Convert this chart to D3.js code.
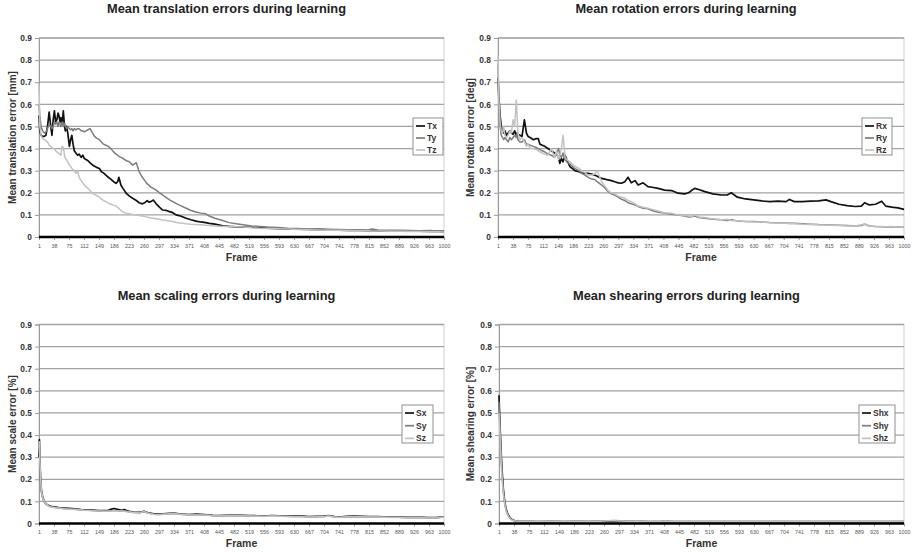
<!DOCTYPE html>
<html>
<head>
<meta charset="utf-8">
<script src="https://cdn.jsdelivr.net/npm/d3@7"></script>
<style>
  html, body { margin: 0; padding: 0; background: #fff; }
  svg { display: block; font-family: 'Liberation Sans', Arial, sans-serif; }
</style>
</head>
<body>
<svg id="chart" width="917" height="552"></svg>
<script>
const frameTicks = [1, 38, 75, 112, 149, 186, 223, 260, 297, 334, 371, 408, 445, 482, 519, 556, 593, 630, 667, 704, 741, 778, 815, 852, 889, 926, 963, 1000]
const errorTicks = [0, 0.1, 0.2, 0.3, 0.4, 0.5, 0.6, 0.7, 0.8, 0.9]

const transFrames = [1, 3, 6, 10, 14, 18, 22, 26, 30, 33, 36, 39, 42, 45, 48, 50, 53, 55, 58, 61, 64, 66, 69, 72, 76, 79, 82, 85, 88, 92, 96, 100, 105, 109, 113, 117, 122, 127, 133, 138, 143, 150, 155, 160, 166, 172, 178, 185, 191, 195, 198, 203, 208, 216, 224, 232, 241, 248, 256, 262, 268, 272, 277, 283, 290, 298, 306, 315, 323, 331, 339, 350, 364, 376, 388, 400, 412, 421, 435, 454, 470, 487, 505, 525, 545, 565, 590, 615, 640, 665, 690, 715, 740, 765, 790, 815, 822, 840, 865, 890, 915, 940, 965, 985, 1000]
const tx = [0.55, 0.48, 0.46, 0.455, 0.455, 0.46, 0.50, 0.565, 0.50, 0.46,
  0.53, 0.57, 0.52, 0.53, 0.56, 0.55, 0.52, 0.54, 0.51, 0.57,
  0.50, 0.48, 0.50, 0.47, 0.41, 0.44, 0.46, 0.42, 0.39, 0.38,
  0.37, 0.375, 0.36, 0.37, 0.355, 0.35, 0.345, 0.335, 0.326, 0.32,
  0.315, 0.31, 0.295, 0.29, 0.28, 0.27, 0.262, 0.25, 0.243, 0.25,
  0.27, 0.235, 0.22, 0.198, 0.185, 0.175, 0.165, 0.155, 0.15, 0.155,
  0.165, 0.158, 0.16, 0.167, 0.15, 0.135, 0.122, 0.12, 0.115, 0.11,
  0.10, 0.095, 0.085, 0.078, 0.072, 0.068, 0.065, 0.062, 0.058, 0.051,
  0.048, 0.046, 0.045, 0.044, 0.042, 0.04, 0.038, 0.036, 0.035, 0.034,
  0.033, 0.032, 0.031, 0.03, 0.03, 0.029, 0.029, 0.028, 0.028, 0.027,
  0.026, 0.026, 0.025, 0.025, 0.024]
const ty = [0.60, 0.55, 0.50, 0.48, 0.47, 0.475, 0.49, 0.51, 0.50, 0.49,
  0.50, 0.52, 0.51, 0.52, 0.50, 0.52, 0.51, 0.50, 0.52, 0.50,
  0.515, 0.50, 0.49, 0.50, 0.49, 0.485, 0.49, 0.48, 0.49, 0.485,
  0.49, 0.49, 0.48, 0.48, 0.475, 0.48, 0.485, 0.49, 0.47, 0.455,
  0.447, 0.44, 0.43, 0.42, 0.415, 0.41, 0.40, 0.385, 0.375, 0.37,
  0.365, 0.36, 0.356, 0.345, 0.34, 0.325, 0.336, 0.296, 0.27, 0.255,
  0.24, 0.235, 0.225, 0.22, 0.212, 0.20, 0.19, 0.178, 0.168, 0.16,
  0.152, 0.142, 0.13, 0.12, 0.113, 0.108, 0.105, 0.095, 0.085, 0.075,
  0.065, 0.06, 0.055, 0.05, 0.048, 0.045, 0.043, 0.04, 0.039, 0.036,
  0.037, 0.035, 0.034, 0.033, 0.032, 0.033, 0.036, 0.031, 0.03, 0.03,
  0.029, 0.028, 0.029, 0.027, 0.028]
const tz = [0.69, 0.50, 0.46, 0.445, 0.44, 0.435, 0.43, 0.416, 0.41, 0.405,
  0.40, 0.398, 0.39, 0.385, 0.38, 0.378, 0.372, 0.37, 0.41, 0.405,
  0.37, 0.355, 0.35, 0.34, 0.326, 0.32, 0.31, 0.305, 0.30, 0.288,
  0.30, 0.27, 0.255, 0.245, 0.235, 0.228, 0.22, 0.21, 0.198, 0.192,
  0.188, 0.18, 0.172, 0.165, 0.16, 0.153, 0.148, 0.143, 0.14, 0.133,
  0.13, 0.12, 0.113, 0.108, 0.105, 0.102, 0.10, 0.097, 0.095, 0.093,
  0.09, 0.088, 0.086, 0.085, 0.083, 0.08, 0.077, 0.075, 0.072, 0.07,
  0.066, 0.063, 0.06, 0.058, 0.057, 0.055, 0.053, 0.052, 0.05, 0.048,
  0.047, 0.046, 0.045, 0.042, 0.04, 0.039, 0.037, 0.036, 0.034, 0.033,
  0.032, 0.031, 0.03, 0.029, 0.028, 0.028, 0.027, 0.027, 0.026, 0.026,
  0.025, 0.025, 0.024, 0.024, 0.023]

// rotation
const rotFrames = [1, 3, 6, 9, 12, 15, 18, 22, 26, 30, 34, 38, 42, 46, 48, 50, 55, 60, 66, 71, 75, 80, 88, 95, 100, 104, 110, 116, 124, 132, 140, 145, 150, 153, 157, 161, 166, 170, 178, 184, 190, 200, 207, 215, 223, 231, 239, 245, 256, 264, 272, 280, 288, 297, 305, 313, 321, 329, 338, 346, 358, 370, 380, 395, 411, 428, 444, 460, 470, 477, 485, 495, 510, 530, 550, 565, 575, 590, 610, 630, 650, 670, 690, 710, 718, 730, 750, 770, 790, 808, 820, 840, 860, 880, 895, 903, 915, 930, 945, 955, 970, 985, 1000]
const rx = [0.72, 0.64, 0.55, 0.50, 0.48, 0.47, 0.48, 0.46, 0.47, 0.48,
  0.47, 0.465, 0.48, 0.46, 0.47, 0.465, 0.46, 0.455, 0.53, 0.47,
  0.455, 0.45, 0.44, 0.445, 0.445, 0.42, 0.415, 0.41, 0.40, 0.39,
  0.38, 0.375, 0.36, 0.333, 0.355, 0.34, 0.37, 0.35, 0.318, 0.31,
  0.30, 0.295, 0.29, 0.288, 0.288, 0.285, 0.28, 0.275, 0.265, 0.262,
  0.258, 0.255, 0.25, 0.245, 0.243, 0.25, 0.27, 0.245, 0.255, 0.235,
  0.245, 0.228, 0.225, 0.22, 0.212, 0.21, 0.198, 0.195, 0.2, 0.21,
  0.22, 0.215, 0.205, 0.195, 0.19, 0.19, 0.2, 0.18, 0.172, 0.168,
  0.163, 0.16, 0.162, 0.16, 0.17, 0.16, 0.16, 0.162, 0.163, 0.168,
  0.16, 0.148, 0.142, 0.138, 0.14, 0.155, 0.145, 0.148, 0.162, 0.14,
  0.135, 0.132, 0.125]
const ry = [0.78, 0.60, 0.50, 0.46, 0.45, 0.44, 0.45, 0.44, 0.43, 0.45,
  0.44, 0.45, 0.46, 0.45, 0.47, 0.44, 0.43, 0.43, 0.44, 0.42,
  0.42, 0.415, 0.41, 0.405, 0.40, 0.395, 0.39, 0.385, 0.375, 0.37,
  0.36, 0.38, 0.40, 0.37, 0.36, 0.38, 0.35, 0.34, 0.33, 0.32,
  0.31, 0.30, 0.288, 0.28, 0.27, 0.262, 0.26, 0.25, 0.235, 0.222,
  0.205, 0.195, 0.19, 0.18, 0.17, 0.165, 0.155, 0.15, 0.145, 0.138,
  0.13, 0.128, 0.12, 0.112, 0.108, 0.103, 0.10, 0.095, 0.09, 0.092,
  0.095, 0.088, 0.085, 0.08, 0.078, 0.075, 0.078, 0.072, 0.07, 0.07,
  0.068, 0.066, 0.065, 0.063, 0.062, 0.062, 0.06, 0.058, 0.056, 0.055,
  0.054, 0.053, 0.052, 0.05, 0.052, 0.058, 0.05, 0.047, 0.046, 0.045,
  0.045, 0.046, 0.044]
const rz = [0.82, 0.62, 0.52, 0.48, 0.47, 0.50, 0.46, 0.45, 0.46, 0.48,
  0.47, 0.53, 0.50, 0.62, 0.55, 0.47, 0.44, 0.45, 0.43, 0.41,
  0.42, 0.40, 0.40, 0.395, 0.39, 0.385, 0.38, 0.375, 0.37, 0.40,
  0.36, 0.39, 0.35, 0.37, 0.40, 0.46, 0.36, 0.35, 0.34, 0.33,
  0.32, 0.31, 0.30, 0.29, 0.28, 0.28, 0.285, 0.30, 0.25, 0.23,
  0.21, 0.20, 0.195, 0.185, 0.18, 0.175, 0.165, 0.16, 0.15, 0.14,
  0.135, 0.13, 0.125, 0.118, 0.11, 0.107, 0.10, 0.097, 0.095, 0.09,
  0.10, 0.09, 0.088, 0.082, 0.078, 0.08, 0.075, 0.074, 0.07, 0.068,
  0.068, 0.064, 0.063, 0.062, 0.06, 0.06, 0.058, 0.057, 0.055, 0.054,
  0.053, 0.052, 0.05, 0.05, 0.055, 0.06, 0.05, 0.048, 0.047, 0.046,
  0.047, 0.045, 0.045]

// scaling
const scaleFrames = [1, 2, 3, 5, 7, 10, 14, 18, 24, 30, 38, 50, 62, 75, 90, 105, 112, 125, 140, 149, 160, 172, 180, 186, 195, 205, 212, 218, 223, 235, 250, 260, 270, 285, 297, 315, 334, 350, 371, 390, 408, 430, 445, 465, 482, 500, 519, 540, 556, 575, 593, 612, 630, 650, 667, 685, 704, 715, 730, 741, 760, 778, 800, 815, 835, 852, 870, 889, 910, 926, 945, 963, 980, 1000]
const sx = [0.30, 0.38, 0.30, 0.2, 0.15, 0.12, 0.1, 0.09, 0.082, 0.078,
  0.075, 0.072, 0.07, 0.068, 0.066, 0.063, 0.062, 0.062, 0.06, 0.058,
  0.058, 0.06, 0.065, 0.068, 0.064, 0.06, 0.063, 0.058, 0.055, 0.052,
  0.05, 0.055, 0.048, 0.044, 0.042, 0.045, 0.047, 0.043, 0.04, 0.042,
  0.04, 0.037, 0.036, 0.037, 0.038, 0.037, 0.036, 0.035, 0.034, 0.036,
  0.035, 0.034, 0.033, 0.033, 0.031, 0.032, 0.033, 0.036, 0.031, 0.029,
  0.032, 0.033, 0.032, 0.031, 0.031, 0.03, 0.029, 0.029, 0.028, 0.028,
  0.028, 0.027, 0.027, 0.03]
const sy = [0.32, 0.36, 0.28, 0.19, 0.14, 0.115, 0.098, 0.088, 0.08, 0.076,
  0.073, 0.07, 0.068, 0.066, 0.064, 0.062, 0.06, 0.06, 0.058, 0.057,
  0.056, 0.057, 0.058, 0.06, 0.058, 0.057, 0.056, 0.055, 0.053, 0.05,
  0.049, 0.056, 0.047, 0.042, 0.041, 0.044, 0.046, 0.042, 0.04, 0.04,
  0.039, 0.036, 0.035, 0.036, 0.037, 0.036, 0.035, 0.034, 0.033, 0.035,
  0.034, 0.033, 0.032, 0.032, 0.03, 0.031, 0.032, 0.035, 0.03, 0.028,
  0.031, 0.032, 0.031, 0.03, 0.03, 0.029, 0.028, 0.028, 0.027, 0.027,
  0.027, 0.026, 0.026, 0.029]
const sz = [0.34, 0.37, 0.29, 0.2, 0.145, 0.118, 0.1, 0.09, 0.08, 0.075,
  0.072, 0.07, 0.067, 0.065, 0.063, 0.061, 0.06, 0.059, 0.057, 0.056,
  0.055, 0.056, 0.057, 0.058, 0.057, 0.056, 0.055, 0.053, 0.052, 0.05,
  0.048, 0.054, 0.046, 0.041, 0.04, 0.043, 0.045, 0.041, 0.039, 0.039,
  0.038, 0.035, 0.034, 0.035, 0.036, 0.035, 0.034, 0.033, 0.032, 0.034,
  0.033, 0.032, 0.031, 0.031, 0.029, 0.03, 0.031, 0.034, 0.029, 0.027,
  0.03, 0.031, 0.03, 0.029, 0.029, 0.028, 0.027, 0.027, 0.026, 0.026,
  0.026, 0.025, 0.025, 0.028]

// shearing
const shearFrames = [1, 2, 4, 6, 8, 10, 12, 15, 18, 21, 25, 30, 35, 40, 50, 65, 80, 100, 130, 160, 190, 220, 250, 270, 285, 300, 320, 340, 370, 400, 408, 430, 460, 500, 550, 600, 650, 700, 750, 800, 850, 900, 950, 1000]
const shx = [0.58, 0.52, 0.42, 0.33, 0.26, 0.2, 0.15, 0.1, 0.07, 0.05,
  0.035, 0.022, 0.016, 0.012, 0.01, 0.009, 0.009, 0.008, 0.009, 0.008,
  0.009, 0.009, 0.009, 0.01, 0.011, 0.01, 0.009, 0.01, 0.008, 0.008,
  0.01, 0.008, 0.008, 0.008, 0.008, 0.008, 0.008, 0.008, 0.008, 0.008,
  0.008, 0.008, 0.008, 0.007]
const shy = [0.55, 0.5, 0.4, 0.31, 0.24, 0.185, 0.14, 0.095, 0.065, 0.046,
  0.032, 0.02, 0.015, 0.012, 0.011, 0.01, 0.01, 0.01, 0.011, 0.01,
  0.011, 0.012, 0.011, 0.013, 0.014, 0.012, 0.011, 0.012, 0.01, 0.01,
  0.013, 0.01, 0.01, 0.01, 0.01, 0.01, 0.01, 0.01, 0.01, 0.01,
  0.01, 0.01, 0.01, 0.01]
const shz = [0.5, 0.46, 0.37, 0.29, 0.22, 0.17, 0.13, 0.09, 0.06, 0.043,
  0.03, 0.019, 0.014, 0.011, 0.01, 0.009, 0.009, 0.009, 0.01, 0.009,
  0.01, 0.011, 0.01, 0.012, 0.012, 0.011, 0.01, 0.011, 0.009, 0.009,
  0.011, 0.009, 0.009, 0.009, 0.009, 0.009, 0.009, 0.009, 0.009, 0.009,
  0.009, 0.009, 0.009, 0.009]

const seriesColors = ['#111111', '#7d7d7d', '#c2c2c2']

const panels = [
  { title: 'Mean translation errors during learning', yTitle: 'Mean translation error [mm]',
    frames: transFrames, series: [['Tx', tx], ['Ty', ty], ['Tz', tz]],
    left: 39, right: 444, top: 38, bottom: 237, titleY: 13, yTitleX: 12,
    legend: { x: 413, y: 118, w: 30, h: 37, first: 8, step: 12 } },
  { title: 'Mean rotation errors during learning', yTitle: 'Mean rotation error [deg]',
    frames: rotFrames, series: [['Rx', rx], ['Ry', ry], ['Rz', rz]],
    left: 498, right: 904, top: 38, bottom: 237, titleY: 13, yTitleX: 470,
    legend: { x: 862, y: 118, w: 30, h: 37, first: 8, step: 12 } },
  { title: 'Mean scaling errors during learning', yTitle: 'Mean scale error [%]',
    frames: scaleFrames, series: [['Sx', sx], ['Sy', sy], ['Sz', sz]],
    left: 39, right: 444, top: 324.5, bottom: 523.5, titleY: 300, yTitleX: 12,
    legend: { x: 402, y: 405, w: 31, h: 38, first: 8, step: 12.7 } },
  { title: 'Mean shearing errors during learning', yTitle: 'Mean shearing error [%]',
    frames: shearFrames, series: [['Shx', shx], ['Shy', shy], ['Shz', shz]],
    left: 499, right: 904, top: 324.5, bottom: 523.5, titleY: 300, yTitleX: 470,
    legend: { x: 859, y: 405, w: 36, h: 38, first: 8, step: 12.7 } }
]

const svg = d3.select('#chart')

function drawPanel(p) {
  const g = svg.append('g')
  const x = d3.scaleLinear().domain([1, 1000]).range([p.left, p.right])
  const y = d3.scaleLinear().domain([0, 0.9]).range([p.bottom, p.top])

  g.append('rect')
    .attr('x', p.left).attr('y', p.top)
    .attr('width', p.right - p.left).attr('height', p.bottom - p.top)
    .attr('fill', '#fff').attr('stroke', '#cfcfcf').attr('stroke-width', 1)

  g.selectAll('line.grid')
    .data(errorTicks.filter((d) => d > 0))
    .join('line')
    .attr('class', 'grid')
    .attr('x1', p.left).attr('x2', p.right)
    .attr('y1', (d) => y(d)).attr('y2', (d) => y(d))
    .attr('stroke', '#a3a3a3').attr('stroke-width', 1.3)

  const yAxis = g.append('g')
    .attr('transform', `translate(${p.left},0)`)
    .call(d3.axisLeft(y).tickValues(errorTicks).tickSizeOuter(0).tickSize(4).tickPadding(3)
      .tickFormat((d) => (d === 0 ? '0' : d3.format('.1f')(d))))
  yAxis.select('.domain').attr('stroke', '#9a9a9a')
  yAxis.selectAll('.tick line').attr('stroke', '#9a9a9a')
  yAxis.selectAll('text')
    .attr('font-size', 8.4).attr('font-weight', 'bold').attr('fill', '#333')
    .attr('font-family', "'Liberation Sans', Arial, sans-serif")

  const xAxis = g.append('g')
    .attr('transform', `translate(0,${p.bottom})`)
    .call(d3.axisBottom(x).tickValues(frameTicks).tickSizeOuter(0).tickSize(3).tickPadding(4)
      .tickFormat((d) => String(d)))
  xAxis.select('.domain').remove()
  xAxis.selectAll('.tick line').attr('stroke', '#9a9a9a')
  xAxis.selectAll('text')
    .attr('font-size', 5.3).attr('fill', '#555')
    .attr('font-family', "'Liberation Sans', Arial, sans-serif")

  const line = d3.line()
    .x((d) => x(d[0]))
    .y((d) => y(d[1]))

  p.series.forEach(([name, values], i) => {
    g.append('path')
      .datum(p.frames.map((f, k) => [f, values[k]]))
      .attr('d', line)
      .attr('fill', 'none')
      .attr('stroke', seriesColors[i])
      .attr('stroke-width', i === 0 ? 1.7 : 1.5)
      .attr('stroke-linejoin', 'round')
  })

  // heavy baseline at zero
  g.append('line')
    .attr('x1', p.left).attr('x2', p.right)
    .attr('y1', y(0)).attr('y2', y(0))
    .attr('stroke', '#000').attr('stroke-width', 2.6)

  g.append('text')
    .attr('x', (p.left + p.right) / 2 - 15).attr('y', p.titleY)
    .attr('text-anchor', 'middle')
    .attr('font-size', 12.8).attr('font-weight', 'bold').attr('fill', '#222')
    .text(p.title)

  g.append('text')
    .attr('transform', `translate(${p.yTitleX},${(p.top + p.bottom) / 2}) rotate(-90)`)
    .attr('text-anchor', 'middle').attr('dy', '0.35em')
    .attr('font-size', 10).attr('font-weight', 'bold').attr('fill', '#333')
    .text(p.yTitle)

  g.append('text')
    .attr('x', (p.left + p.right) / 2).attr('y', p.bottom + 23.5)
    .attr('text-anchor', 'middle')
    .attr('font-size', 10.5).attr('font-weight', 'bold').attr('fill', '#333')
    .text('Frame')

  const lg = p.legend
  g.append('rect')
    .attr('x', lg.x).attr('y', lg.y).attr('width', lg.w).attr('height', lg.h)
    .attr('fill', '#fff').attr('stroke', '#8f8f8f').attr('stroke-width', 1)
  p.series.forEach(([name], i) => {
    const cy = lg.y + lg.first + i * lg.step
    g.append('line')
      .attr('x1', lg.x + 3).attr('x2', lg.x + 12)
      .attr('y1', cy).attr('y2', cy)
      .attr('stroke', seriesColors[i]).attr('stroke-width', 1.7)
    g.append('text')
      .attr('x', lg.x + 14).attr('y', cy).attr('dy', '0.35em')
      .attr('font-size', 8.5).attr('font-weight', 'bold').attr('fill', '#333')
      .text(name)
  })
}

panels.forEach(drawPanel)
</script>
</body>
</html>
